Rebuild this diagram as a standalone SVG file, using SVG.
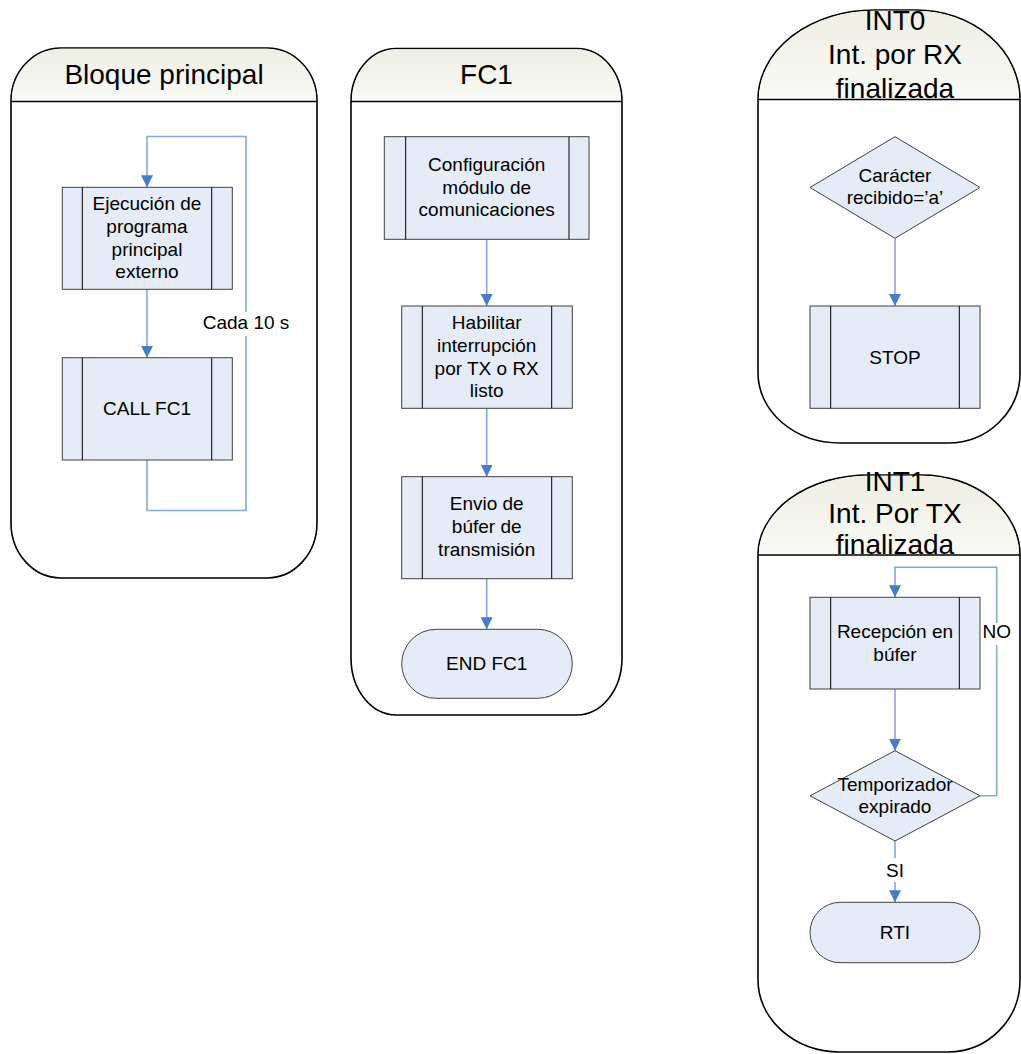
<svg xmlns="http://www.w3.org/2000/svg" width="1021" height="1054" viewBox="0 0 1021 1054">
<style>
.cont{fill:#ffffff;stroke:#000000;stroke-width:1.6}
.hdr{fill:url(#hg);stroke:none}
.div{stroke:#000000;stroke-width:1.6;fill:none}
.ttl{font-family:"Liberation Sans",Arial,sans-serif;font-size:28px;fill:#000000;text-anchor:middle}
.box{fill:#E6ECF7;stroke:#404040;stroke-width:1}
.inner{stroke:#000000;stroke-width:1;fill:none}
.txt{font-family:"Liberation Sans",Arial,sans-serif;font-size:19px;fill:#000000;text-anchor:middle}
.con{fill:none;stroke:#86A7DA;stroke-width:1.6;marker-end:url(#arr)}
.lblbg{fill:#ffffff;stroke:none}
</style>
<defs>
<linearGradient id="hg" x1="0" y1="0" x2="0" y2="1">
<stop offset="0" stop-color="#EEEEE3"/>
<stop offset="1" stop-color="#FAFAF7"/>
</linearGradient>
<marker id="arr" markerUnits="userSpaceOnUse" markerWidth="12" markerHeight="12" refX="12" refY="6" orient="auto">
<path d="M0,0 L12,6 L0,12 Z" fill="#4A7CC6"/>
</marker>
</defs>

<g id="lane-bloque">
<path class="cont" d="M11,101 A50,53 0 0 1 61,48 H267 A50,53 0 0 1 317,101 V523 A50,55 0 0 1 267,578 H61 A50,55 0 0 1 11,523 Z"/>
<path class="hdr" d="M11.8,101 A50,53 0 0 1 61,48.8 H267 A50,53 0 0 1 316.2,101 Z"/>
<line class="div" x1="11" y1="101.5" x2="317" y2="101.5"/>
<text class="ttl" x="164" y="84">Bloque principal</text>
</g>

<g id="lane-fc1">
<path class="cont" d="M351,101.5 A45,53 0 0 1 396,48.5 H577 A45,53 0 0 1 622,101.5 V658 A45,57 0 0 1 577,715 H396 A45,57 0 0 1 351,658 Z"/>
<path class="hdr" d="M351.8,101.5 A45,53 0 0 1 396,49.3 H577 A45,53 0 0 1 621.2,101.5 Z"/>
<line class="div" x1="351" y1="101.5" x2="622" y2="101.5"/>
<text class="ttl" x="486.5" y="83.5">FC1</text>
</g>

<g id="lane-int0">
<path class="cont" d="M758,99.5 A116,89.5 0 0 1 874,10 H916 A104,89.5 0 0 1 1020,99.5 V373 A72,70 0 0 1 948,443 H840 A82,70 0 0 1 758,373 Z"/>
<path class="hdr" d="M758.8,99.5 A116,89.5 0 0 1 874,10.8 H916 A104,89.5 0 0 1 1019.2,99.5 Z"/>
<line class="div" x1="758" y1="99.5" x2="1020" y2="99.5"/>
<text class="ttl" x="895" y="30">INT0</text>
<text class="ttl" x="895" y="64">Int. por RX</text>
<text class="ttl" x="895" y="98">finalizada</text>
</g>

<g id="lane-int1">
<path class="cont" d="M758,555 A110,80 0 0 1 868,475 H922 A98,80 0 0 1 1020,555 V980 A72,72 0 0 1 948,1052 H840 A82,72 0 0 1 758,980 Z"/>
<path class="hdr" d="M758.8,555 A110,80 0 0 1 868,475.8 H922 A98,80 0 0 1 1019.2,555 Z"/>
<line class="div" x1="758" y1="555" x2="1020" y2="555"/>
<text class="ttl" x="895" y="491">INT1</text>
<text class="ttl" x="895" y="523">Int. Por TX</text>
<text class="ttl" x="895" y="554">finalizada</text>
</g>

<g id="connectors">
<path class="con" d="M147,460 V510.5 H246 V136.5 H147 V187.3"/>
<path class="con" d="M147,289.3 V357.7"/>
<path class="con" d="M486.7,239.3 V306"/>
<path class="con" d="M486.7,408.3 V476.7"/>
<path class="con" d="M486.7,578.7 V629.3"/>
<path class="con" d="M895,238.3 V306"/>
<path class="con" d="M895,689 V750.7"/>
<path class="con" d="M895,841 V902.3"/>
<path class="con" d="M980,795.8 H996.7 V567.3 H895 V597.3"/>
<rect class="lblbg" x="201" y="312" width="90" height="24"/>
<text class="txt" x="246" y="328.5">Cada 10 s</text>
<rect class="lblbg" x="982" y="623" width="30" height="22"/>
<text class="txt" x="996.7" y="638">NO</text>
<rect class="lblbg" x="883" y="858" width="24" height="24"/>
<text class="txt" x="895" y="876.5">SI</text>
</g>

<g id="n-ejecucion">
<rect class="box" x="62.3" y="187.3" width="170" height="102"/>
<path class="inner" d="M82.3,187.3 V289.3 M211.7,187.3 V289.3"/>
<text class="txt" x="147" y="210">Ejecución de</text>
<text class="txt" x="147" y="233">programa</text>
<text class="txt" x="147" y="255.5">principal</text>
<text class="txt" x="147" y="278">externo</text>
</g>

<g id="n-callfc1">
<rect class="box" x="62.3" y="357.7" width="170" height="102.3"/>
<path class="inner" d="M82.3,357.7 V460 M211.7,357.7 V460"/>
<text class="txt" x="147" y="415">CALL FC1</text>
</g>

<g id="n-config">
<rect class="box" x="384.3" y="136.7" width="204.7" height="102.6"/>
<path class="inner" d="M405.7,136.7 V239.3 M569,136.7 V239.3"/>
<text class="txt" x="486.7" y="171">Configuración</text>
<text class="txt" x="486.7" y="193.5">módulo de</text>
<text class="txt" x="486.7" y="216">comunicaciones</text>
</g>

<g id="n-habilitar">
<rect class="box" x="401.7" y="306" width="170.6" height="102.3"/>
<path class="inner" d="M422.3,306 V408.3 M551.7,306 V408.3"/>
<text class="txt" x="486.7" y="328.5">Habilitar</text>
<text class="txt" x="486.7" y="351.5">interrupción</text>
<text class="txt" x="486.7" y="374.5">por TX o RX</text>
<text class="txt" x="486.7" y="397">listo</text>
</g>

<g id="n-envio">
<rect class="box" x="401.7" y="476.7" width="170.6" height="102"/>
<path class="inner" d="M422.3,476.7 V578.7 M551.7,476.7 V578.7"/>
<text class="txt" x="486.7" y="510">Envio de</text>
<text class="txt" x="486.7" y="533">búfer de</text>
<text class="txt" x="486.7" y="556">transmisión</text>
</g>

<g id="n-endfc1">
<rect class="box" x="401.7" y="629.3" width="170.6" height="69" rx="34.5" ry="34.5"/>
<text class="txt" x="486.7" y="670">END FC1</text>
</g>

<g id="n-caracter">
<path class="box" d="M895,136.7 L980,187.5 L895,238.3 L810,187.5 Z"/>
<text class="txt" x="895" y="181.5">Carácter</text>
<text class="txt" x="895" y="204">recibido=’a’</text>
</g>

<g id="n-stop">
<rect class="box" x="810" y="306" width="170" height="102.3"/>
<path class="inner" d="M830.7,306 V408.3 M959.3,306 V408.3"/>
<text class="txt" x="895" y="363.5">STOP</text>
</g>

<g id="n-recepcion">
<rect class="box" x="810" y="597.3" width="170" height="91.7"/>
<path class="inner" d="M830.7,597.3 V689 M959.3,597.3 V689"/>
<text class="txt" x="895" y="638">Recepción en</text>
<text class="txt" x="895" y="660.5">búfer</text>
</g>

<g id="n-temporizador">
<path class="box" d="M895,750.7 L980,795.8 L895,841 L810,795.8 Z"/>
<text class="txt" x="895" y="790.5">Temporizador</text>
<text class="txt" x="895" y="812.5">expirado</text>
</g>

<g id="n-rti">
<rect class="box" x="810" y="902.3" width="170" height="60.4" rx="30.2" ry="30.2"/>
<text class="txt" x="895" y="939">RTI</text>
</g>
</svg>
